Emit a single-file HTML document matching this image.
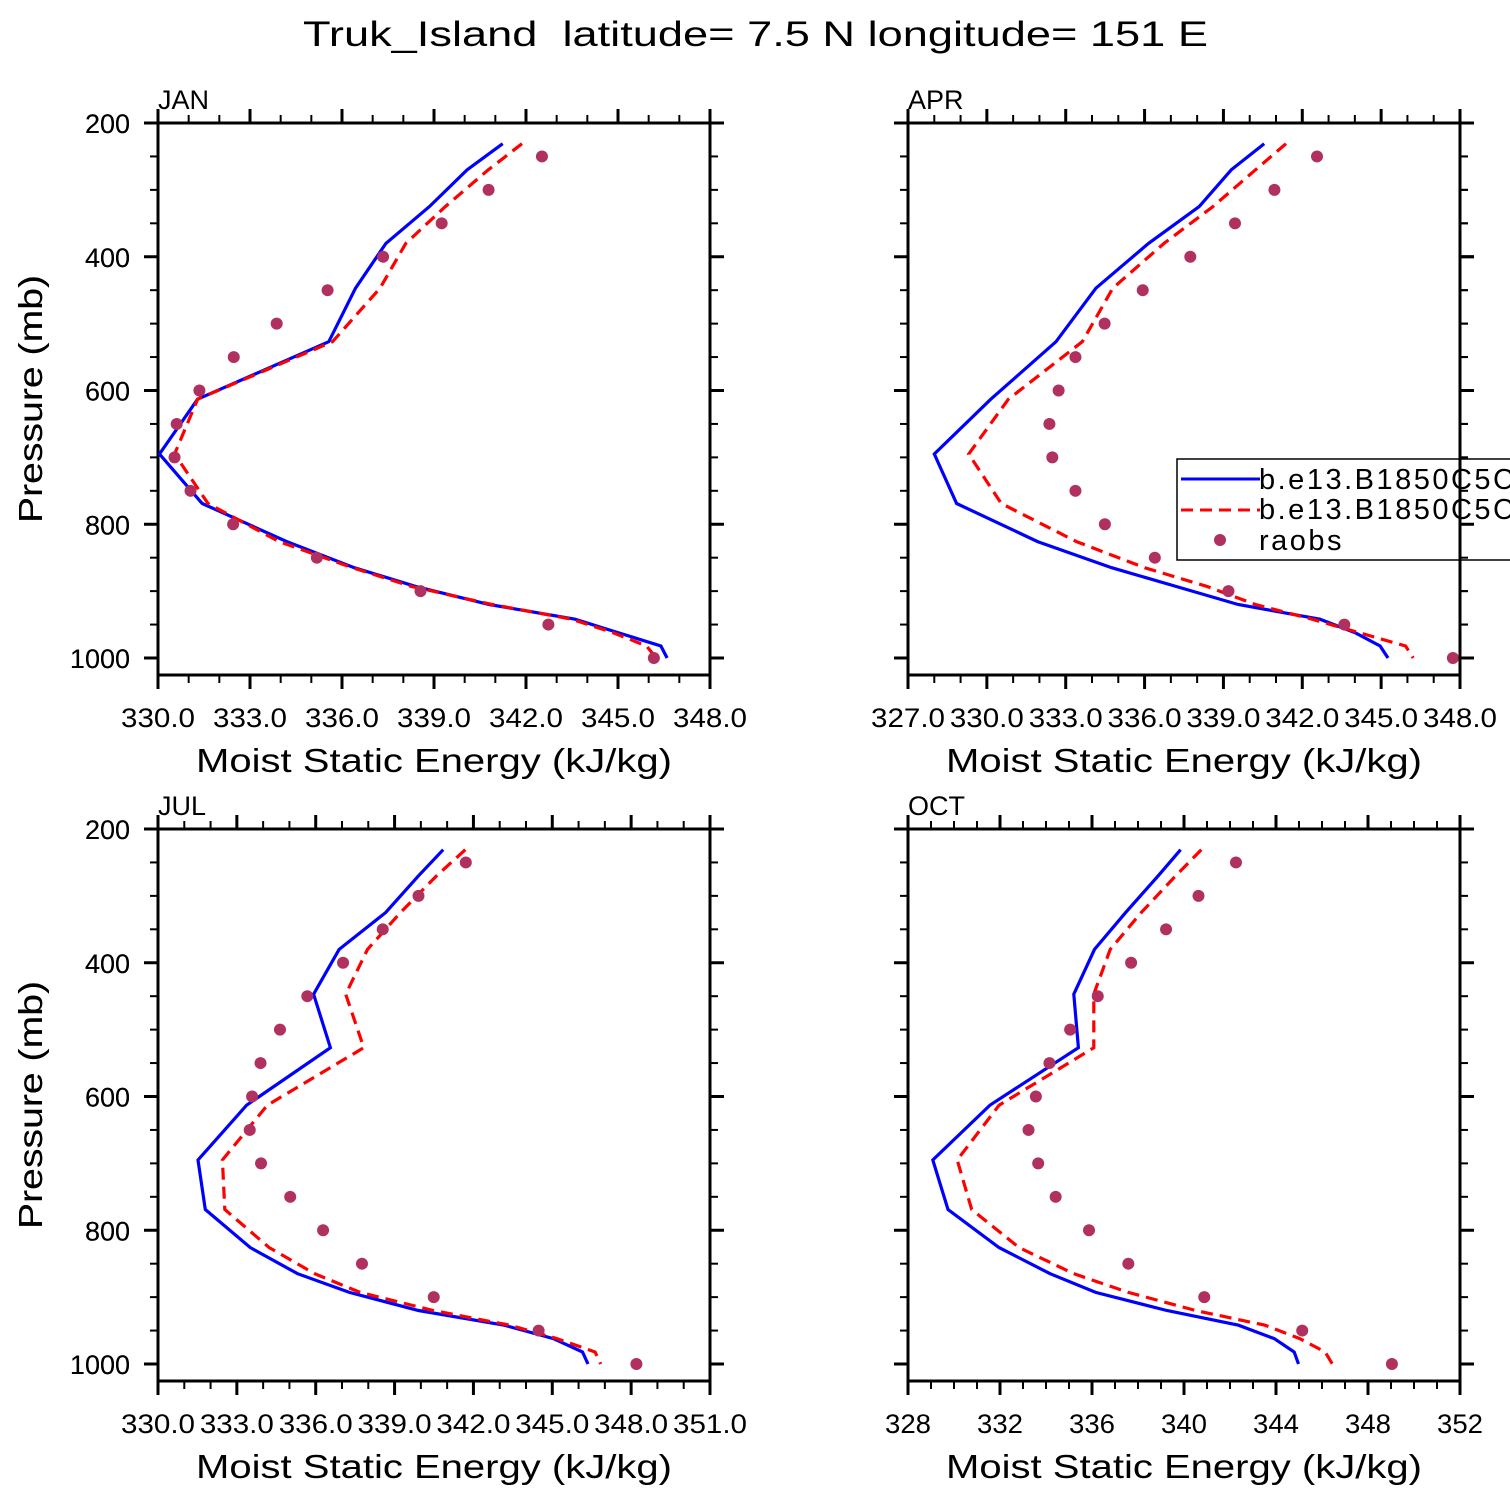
<!DOCTYPE html>
<html><head><meta charset="utf-8"><style>
html,body{margin:0;padding:0;background:#fff;overflow:hidden}
svg{display:block}
text{font-family:"Liberation Sans",sans-serif;fill:#000}
</style></head><body>
<svg id="chart" xmlns="http://www.w3.org/2000/svg" width="1510" height="1510" viewBox="0 0 1510 1510">
<rect width="1510" height="1510" fill="#fff"/>
<text x="303" y="46" font-size="35" textLength="905" lengthAdjust="spacingAndGlyphs" xml:space="preserve">Truk_Island  latitude= 7.5 N longitude= 151 E</text>
<g id="panels"></g>
</svg>
<script>
// shared model pressure levels (mb)
const levels = [231,270,325,380,447,527,613,695,769,826,865,893,920,942,962,982,1000];
const obsLevels = [250,300,350,400,450,500,550,600,650,700,750,800,850,900,950,1000];
const yTicks = [200,400,600,800,1000];

// JAN
const janCase1 = [341.24,340.08,338.85,337.43,336.44,335.57,331.29,330.05,331.44,334.2,336.4,338.4,340.8,343.6,345.0,346.4,346.6];
const janCase2 = [341.87,340.77,339.37,338.08,337.24,335.69,331.29,330.54,331.63,333.95,336.34,338.26,340.9,343.49,344.83,345.93,346.25];
const janObs = [342.52,340.78,339.25,337.34,335.53,333.87,332.47,331.35,330.61,330.54,331.06,332.45,335.18,338.56,342.73,346.17];
const janTicks = ["330.0","333.0","336.0","339.0","342.0","345.0","348.0"];
// APR
const aprCase1 = [340.55,339.3,338.08,336.15,334.15,332.63,330.15,328.0,328.85,331.93,334.75,337.19,339.56,342.67,344.0,344.96,345.26];
const aprCase2 = [341.38,340.22,338.6,336.74,334.79,333.63,330.82,329.31,330.55,333.41,336.0,338.37,340.22,342.37,344.15,345.93,346.22];
const aprObs = [342.56,340.94,339.44,337.74,335.93,334.48,333.37,332.73,332.38,332.49,333.37,334.49,336.39,339.19,343.6,347.73];
const aprTicks = ["327.0","330.0","333.0","336.0","339.0","342.0","345.0","348.0"];
// JUL
const julCase1 = [340.85,339.91,338.66,336.89,335.92,336.56,333.37,331.52,331.8,333.51,335.31,337.28,339.91,343.17,345.04,346.15,346.36];
const julCase2 = [341.69,340.6,339.22,337.97,337.14,337.83,334.16,332.45,332.54,334.23,335.96,337.69,340.47,343.38,345.18,346.63,346.84];
const julObs = [341.71,339.91,338.55,337.04,335.68,334.64,333.9,333.58,333.49,333.92,335.03,336.28,337.76,340.49,344.48,348.2];
const julTicks = ["330.0","333.0","336.0","339.0","342.0","345.0","348.0","351.0"];
// OCT
const octCase1 = [339.85,338.88,337.46,336.11,335.21,335.41,331.56,329.08,329.74,331.96,334.18,336.16,339.25,342.37,343.92,344.79,344.98];
const octCase2 = [340.75,339.64,338.14,336.79,336.08,336.08,331.96,330.14,330.77,332.83,335.21,337.58,340.51,343.52,345.03,346.14,346.45];
const octObs = [342.26,340.63,339.22,337.7,336.25,335.05,334.15,333.56,333.24,333.66,334.42,335.87,337.58,340.88,345.14,349.04];
const octTicks = ["328","332","336","340","344","348","352"];

const NS = "http://www.w3.org/2000/svg";
const root = document.getElementById('panels');
function mk(tag, attrs, parent){
  const e = document.createElementNS(NS, tag);
  for (const k in attrs) e.setAttribute(k, attrs[k]);
  (parent||root).appendChild(e);
  return e;
}

function panel(cfg){
  const g = mk('g', {});
  
  
  const L = cfg.x0, R = cfg.x0 + 552, T = cfg.y0, B = cfg.y0 + 552;
  const xmin = parseFloat(cfg.ticks[0]), xmax = parseFloat(cfg.ticks[cfg.ticks.length-1]);
  const sx = v => L + (v - xmin) / (xmax - xmin) * 552;
  const sy = p => T + (p - 200) * 0.66875;

  const fr = mk('rect', {x:L, y:T, width:552, height:552, fill:'none', stroke:'#000', 'stroke-width':3}, g);
  
  

  for (let p = 200; p <= 1025; p += 50) {
    const major = (p % 200 === 0);
    const len = major ? 14 : 8;
    const y = sy(p);
    mk('line', {x1:L-len, y1:y, x2:L, y2:y, stroke:'#000', 'stroke-width':major?3:2}, g);
    mk('line', {x1:R, y1:y, x2:R+len, y2:y, stroke:'#000', 'stroke-width':major?3:2}, g);
  }
  yTicks.forEach(p => {
    const t = mk('text', {x:130, y:sy(p)+10, 'font-size':27, 'text-anchor':'end'}, g);
    
    
    t.textContent = p;
  });
  const n = cfg.ticks.length - 1;
  const step = (xmax - xmin) / n;
  const minorN = cfg.minor;
  for (let i = 0; i <= n * minorN; i++) {
    const v = xmin + i * step / minorN;
    const major = (i % minorN === 0);
    const len = major ? 14 : 8;
    const x = sx(v);
    mk('line', {x1:x, y1:T-len, x2:x, y2:T, stroke:'#000', 'stroke-width':major?3:2}, g);
    mk('line', {x1:x, y1:B, x2:x, y2:B+len, stroke:'#000', 'stroke-width':major?3:2}, g);
  }
  cfg.ticks.forEach(lbl => {
    const w = lbl.length > 3 ? 74 : 46;
    const t = mk('text', {x:sx(parseFloat(lbl)) - w/2, y:B+52, 'font-size':27, textLength:w, lengthAdjust:'spacingAndGlyphs'}, g);
    
    
    t.textContent = lbl;
  });
  const xt = mk('text', {x:196, y:B+97, 'font-size':33, textLength:476, lengthAdjust:'spacingAndGlyphs', transform:'translate(' + (L-158) + ',0)'}, g);
  
  
  xt.textContent = 'Moist Static Energy (kJ/kg)';
  const yt = mk('text', {x:0, y:0, 'font-size':33, 'text-anchor':'middle', textLength:248, lengthAdjust:'spacingAndGlyphs', transform:'translate(42,' + (T+276) + ') rotate(-90)'}, g);
  
  
  yt.textContent = 'Pressure (mb)';
  const pl = mk('text', {x:L, y:T-14, 'font-size':27}, g);
  
  
  pl.textContent = cfg.label;

  const pts = arr => arr.map((v,i) => sx(v).toFixed(1) + ',' + sy(levels[i]).toFixed(1)).join(' ');
  const l1 = mk('polyline', {points:pts(cfg.c1), fill:'none', stroke:'#0000ff', 'stroke-width':3.2, 'stroke-linejoin':'miter'}, g);
  
  
  const l2 = mk('polyline', {points:pts(cfg.c2), fill:'none', stroke:'#ff0000', 'stroke-width':3.2, 'stroke-dasharray':'12,7'}, g);
  
  
  cfg.obs.forEach((v,i) => {
    const c = mk('circle', {cx:sx(v), cy:sy(obsLevels[i]), r:6, fill:'#b03060'}, g);
    
    
  });
  return {g, R};
}

panel({key:'jan', label:'JAN', x0:158, y0:123, ticks:janTicks, minor:3, c1:janCase1, c2:janCase2, obs:janObs});
panel({key:'apr', label:'APR', x0:908, y0:123, ticks:aprTicks, minor:3, c1:aprCase1, c2:aprCase2, obs:aprObs});
panel({key:'jul', label:'JUL', x0:158, y0:829, ticks:julTicks, minor:3, c1:julCase1, c2:julCase2, obs:julObs});
panel({key:'oct', label:'OCT', x0:908, y0:829, ticks:octTicks, minor:4, c1:octCase1, c2:octCase2, obs:octObs});

const lg = mk('g', {});


mk('rect', {x:1177, y:459, width:345, height:101, fill:'#fff', stroke:'#000', 'stroke-width':1.5}, lg);
mk('line', {x1:1181, y1:479, x2:1260, y2:479, stroke:'#0000ff', 'stroke-width':3}, lg);
mk('line', {x1:1181, y1:510, x2:1260, y2:510, stroke:'#ff0000', 'stroke-width':3, 'stroke-dasharray':'12,7'}, lg);
mk('circle', {cx:1220, cy:540, r:6, fill:'#b03060'}, lg);
const t1 = mk('text', {x:1259, y:489, 'font-size':29, 'letter-spacing':'2.5'}, lg);


t1.textContent = 'b.e13.B1850C5CN';
const t2 = mk('text', {x:1259, y:519, 'font-size':29, 'letter-spacing':'2.5'}, lg);


t2.textContent = 'b.e13.B1850C5CN';
const t3 = mk('text', {x:1259, y:550, 'font-size':29, 'letter-spacing':'2.5'}, lg);


t3.textContent = 'raobs';
mk('line', {x1:1460, y1:123, x2:1460, y2:675, stroke:'#000', 'stroke-width':3}, lg);
for (let p = 200; p <= 1025; p += 50) {
  const y = 123 + (p-200)*0.66875;
  mk('line', {x1:1460, y1:y, x2:1460+(p%200===0?14:8), y2:y, stroke:'#000', 'stroke-width':p%200===0?3:2}, lg);
}
</script>
</body></html>
